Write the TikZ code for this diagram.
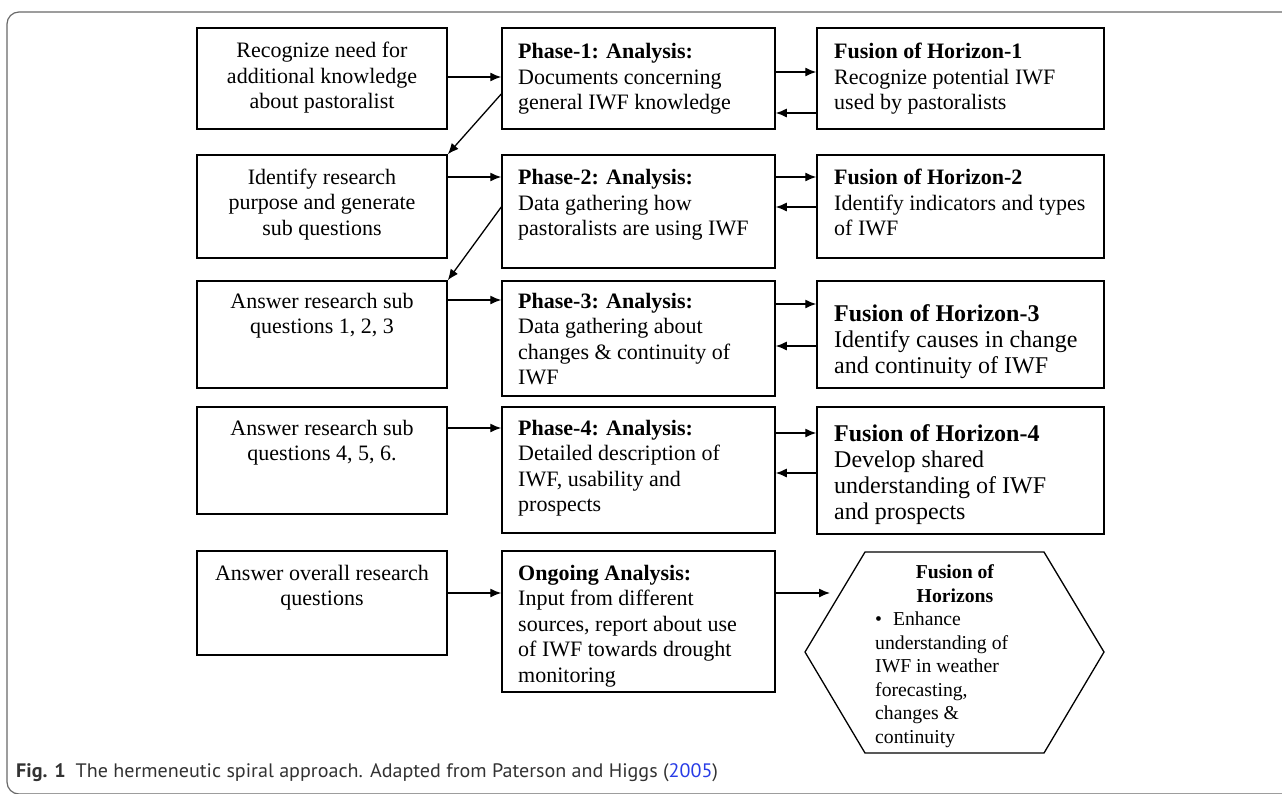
\documentclass[tikz,border=0pt]{standalone}
\usepackage{fontspec}
\setmainfont{Liberation Serif}
\newfontfamily\capfont[FakeStretch=1.03]{PT Sans}
\usetikzlibrary{arrows.meta,calc}
\definecolor{framegray}{RGB}{105,105,105}
\definecolor{capblue}{RGB}{40,60,230}
\definecolor{captext}{RGB}{50,50,50}
\begin{document}
\begin{tikzpicture}[x=1pt,y=-1pt,
  box/.style={draw=black,line width=1.5pt,rectangle,inner sep=0pt},
  txt/.style={inner sep=0pt,font=\fontsize{22}{25.5}\selectfont},
  bigtxt/.style={inner sep=0pt,font=\fontsize{24}{26}\selectfont},
  hextxt/.style={inner sep=0pt,font=\fontsize{19.7}{23.5}\selectfont},
  arr/.style={-{Latex[length=11pt,width=9pt]},line width=1.3pt},
]
\clip (0,0) rectangle (1282,793);
\draw[framegray,line width=1.2pt,rounded corners=12pt] (7,12) rectangle (1320,794);

% left column boxes
\node[box,minimum width=250pt,minimum height=101pt] (l1) at (322,78.5) {};
\node[box,minimum width=250pt,minimum height=103pt] (l2) at (322,206.5) {};
\node[box,minimum width=250pt,minimum height=107pt] (l3) at (322,334.5) {};
\node[box,minimum width=250pt,minimum height=107pt] (l4) at (322,460.5) {};
\node[box,minimum width=250pt,minimum height=104pt] (l5) at (322,603) {};
% middle column boxes
\node[box,minimum width=273pt,minimum height=101pt] (m1) at (638.5,78.5) {};
\node[box,minimum width=273pt,minimum height=113pt] (m2) at (638.5,211.5) {};
\node[box,minimum width=273pt,minimum height=115pt] (m3) at (638.5,338.5) {};
\node[box,minimum width=273pt,minimum height=126pt] (m4) at (638.5,470) {};
\node[box,minimum width=273pt,minimum height=141pt] (m5) at (638.5,621.5) {};
% right column boxes
\node[box,minimum width=287pt,minimum height=101pt] (r1) at (960.5,78.5) {};
\node[box,minimum width=287pt,minimum height=103pt] (r2) at (960.5,206.5) {};
\node[box,minimum width=287pt,minimum height=107pt] (r3) at (960.5,334.5) {};
\node[box,minimum width=287pt,minimum height=127pt] (r4) at (960.5,470.5) {};
% hexagon
\draw[line width=1.3pt] (805,652) -- (865,552) -- (1044,552) -- (1104,652) -- (1044,753) -- (865,753) -- cycle;
\coordinate (hexin) at (830,593);

% texts left
\node[txt,anchor=north,align=center] (tl1) at (322,39.5) {\strut Recognize need for\\additional knowledge\\about pastoralist};
\node[txt,anchor=north,align=center] (tl2) at (322,166) {\strut Identify research\\purpose and generate\\sub questions};
\node[txt,anchor=north,align=center] (tl3) at (322,290) {\strut Answer research sub\\questions 1, 2, 3};
\node[txt,anchor=north,align=center] (tl4) at (322,417) {\strut Answer research sub\\questions 4, 5, 6.};
\node[txt,anchor=north,align=center] (tl5) at (322,562) {\strut Answer overall research\\questions};
% texts middle
\node[txt,anchor=north west,align=left] (tm1) at (518,40.5) {\strut\textbf{Phase-1: Analysis:}\\Documents concerning\\general IWF knowledge};
\node[txt,anchor=north west,align=left] (tm2) at (518,166.5) {\strut\textbf{Phase-2: Analysis:}\\Data gathering how\\pastoralists are using IWF};
\node[txt,anchor=north west,align=left] (tm3) at (518,290) {\strut\textbf{Phase-3: Analysis:}\\Data gathering about\\changes \& continuity of\\IWF};
\node[txt,anchor=north west,align=left] (tm4) at (518,417) {\strut\textbf{Phase-4: Analysis:}\\Detailed description of\\IWF, usability and\\prospects};
\node[txt,anchor=north west,align=left] (tm5) at (518,562) {\strut\textbf{Ongoing Analysis:}\\Input from different\\sources, report about use\\of IWF towards drought\\monitoring};
% texts right
\node[txt,anchor=north west,align=left] (tr1) at (834,40.5) {\strut\textbf{Fusion of Horizon-1}\\Recognize potential IWF\\used by pastoralists};
\node[txt,anchor=north west,align=left] (tr2) at (834,166.5) {\strut\textbf{Fusion of Horizon-2}\\Identify indicators and types\\of IWF};
\node[bigtxt,anchor=north west,align=left] (tr3) at (834,303.3) {\strut\textbf{Fusion of Horizon-3}\\Identify causes in change\\and continuity of IWF};
\node[bigtxt,anchor=north west,align=left] (tr4) at (834,423.3) {\strut\textbf{Fusion of Horizon-4}\\Develop shared\\understanding of IWF\\and prospects};
% hexagon texts
\node[hextxt,anchor=north,align=center] (th1) at (955,561.9) {\strut\textbf{Fusion of}\\\textbf{Horizons}};
\node[hextxt,anchor=north west,align=left] (th2) at (875,608.9) {\strut\textbullet\hspace{11pt}Enhance\\understanding of\\IWF in weather\\forecasting,\\changes \&\\continuity};

% arrows left -> middle
\draw[arr] ([yshift=1.5pt]l1.east) -- ([yshift=1.5pt]l1.east -| m1.west);
\draw[arr] ([yshift=29.5pt]l2.east) -- ([yshift=29.5pt]l2.east -| m2.west);
\draw[arr] ([yshift=34.5pt]l3.east) -- ([yshift=34.5pt]l3.east -| m3.west);
\draw[arr] ([yshift=32.5pt]l4.east) -- ([yshift=32.5pt]l4.east -| m4.west);
\draw[arr] ([yshift=10pt]l5.east) -- ([yshift=10pt]l5.east -| m5.west);
% diagonal arrows
\draw[arr] ([yshift=-15.5pt]m1.west) -- (l2.north east);
\draw[arr] ([yshift=4.5pt]m2.west) -- (l3.north east);
% middle <-> right
\draw[arr] ([yshift=6.5pt]m1.east) -- ([yshift=6.5pt]m1.east -| r1.west);
\draw[arr] ([yshift=-34.5pt]r1.west) -- ([yshift=-34.5pt]r1.west -| m1.east);
\draw[arr] ([yshift=34.5pt]m2.east) -- ([yshift=34.5pt]m2.east -| r2.west);
\draw[arr] ([yshift=4.5pt]m2.east -| r2.west) -- ([yshift=4.5pt]m2.east);
\draw[arr] ([yshift=34.5pt]m3.east) -- ([yshift=34.5pt]m3.east -| r3.west);
\draw[arr] ([yshift=-7.5pt]m3.east -| r3.west) -- ([yshift=-7.5pt]m3.east);
\draw[arr] ([yshift=37pt]m4.east) -- ([yshift=37pt]m4.east -| r4.west);
\draw[arr] ([yshift=-3pt]m4.east -| r4.west) -- ([yshift=-3pt]m4.east);
\draw[arr] ([yshift=28.5pt]m5.east) -- (hexin);

% caption
\node[inner sep=0pt,anchor=base west,text=captext,font=\capfont\fontsize{19.5}{23}\selectfont] (cap) at (16,777)
  {\textbf{Fig. 1}\hspace{10pt}The hermeneutic spiral approach. Adapted from Paterson and Higgs (\textcolor{capblue}{2005})};
\end{tikzpicture}
\end{document}
